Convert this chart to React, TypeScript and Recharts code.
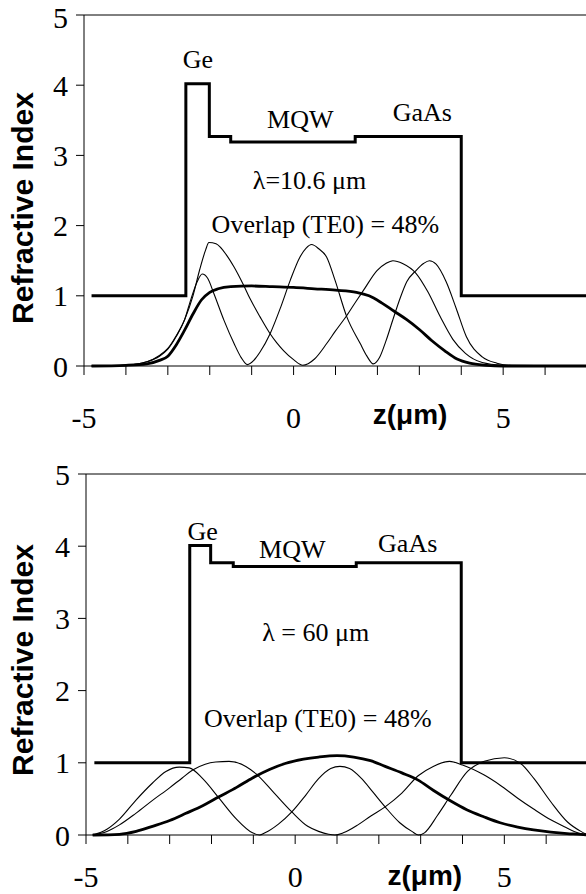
import { LineChart, Line, XAxis, YAxis, ReferenceLine, ReferenceDot } from 'recharts'

const SERIF = '"Liberation Serif", "Times New Roman", serif'
const SANS = '"Liberation Sans", Arial, sans-serif'

const xTicks = [-5, -4, -3, -2, -1, 0, 1, 2, 3, 4, 5, 6, 7]
const yTicks = [0, 1, 2, 3, 4, 5]

// ---- top panel: lambda = 10.6 um ----
const stepZ1 = [-4.82, -2.57, -2.57, -2.01, -2.01, -1.5, -1.5, 1.47, 1.47, 4.0, 4.0, 7]
const stepN1 = [1, 1, 4.02, 4.02, 3.27, 3.27, 3.19, 3.19, 3.27, 3.27, 1, 1]

const te0Z1 = [-4.82, -4.0, -3.5, -3.2, -3.0, -2.8, -2.6, -2.4, -2.2, -2.0, -1.8, -1.5, -1.0, -0.5, 0, 0.5, 1.0, 1.5, 1.8, 2.1, 2.4, 2.7, 3.0, 3.3, 3.6, 3.9, 4.2, 4.6, 5.0, 7]
const te0V1 = [0, 0.01, 0.03, 0.08, 0.14, 0.3, 0.51, 0.74, 0.94, 1.05, 1.1, 1.13, 1.14, 1.13, 1.12, 1.1, 1.08, 1.05, 1.0, 0.9, 0.78, 0.66, 0.52, 0.36, 0.22, 0.1, 0.04, 0.01, 0, 0]

const te1Z1 = [-4.82, -4.0, -3.5, -3.2, -3.0, -2.8, -2.6, -2.4, -2.25, -2.1, -2.02, -1.85, -1.6, -1.42, -1.2, -1.04, -0.8, -0.56, -0.4, -0.24, 0, 0.22, 0.5, 0.79, 1.0, 1.27, 1.5, 1.67, 1.99, 2.2, 2.37, 2.6, 2.92, 3.2, 3.5, 3.8, 4.1, 4.5, 5.0, 5.5, 7]
const te1V1 = [0, 0.01, 0.06, 0.15, 0.25, 0.43, 0.66, 1.0, 1.35, 1.65, 1.76, 1.74, 1.58, 1.41, 1.16, 0.96, 0.7, 0.46, 0.33, 0.22, 0.09, 0.01, 0.1, 0.32, 0.5, 0.72, 0.93, 1.08, 1.36, 1.46, 1.5, 1.46, 1.32, 1.06, 0.7, 0.38, 0.18, 0.05, 0.01, 0, 0]

const te2Z1 = [-4.82, -4.0, -3.5, -3.2, -3.0, -2.8, -2.6, -2.45, -2.3, -2.18, -2.05, -1.9, -1.66, -1.42, -1.25, -1.1, -0.95, -0.8, -0.56, -0.3, -0.08, 0.15, 0.3, 0.43, 0.6, 0.79, 0.99, 1.27, 1.59, 1.75, 1.9, 2.05, 2.2, 2.38, 2.55, 2.7, 2.92, 3.1, 3.24, 3.4, 3.64, 3.88, 4.12, 4.5, 4.85, 5.2, 7]
const te2V1 = [0, 0.01, 0.06, 0.14, 0.24, 0.42, 0.66, 0.95, 1.2, 1.31, 1.25, 1.03, 0.65, 0.32, 0.12, 0.02, 0.08, 0.2, 0.46, 0.85, 1.22, 1.55, 1.68, 1.73, 1.67, 1.55, 1.22, 0.7, 0.32, 0.14, 0.03, 0.12, 0.35, 0.68, 0.98, 1.2, 1.36, 1.46, 1.5, 1.45, 1.2, 0.82, 0.42, 0.13, 0.04, 0.01, 0]

// ---- bottom panel: lambda = 60 um ----
const stepZ2 = [-4.8, -2.52, -2.52, -2.02, -2.02, -1.48, -1.48, 1.46, 1.46, 3.97, 3.97, 7]
const stepN2 = [1, 1, 4.01, 4.01, 3.77, 3.77, 3.72, 3.72, 3.77, 3.77, 1, 1]

const te0Z2 = [-4.84, -4.2, -3.8, -3.41, -3.0, -2.61, -2.2, -1.82, -1.4, -1.02, -0.6, -0.24, 0.2, 0.56, 1.0, 1.4, 1.8, 2.15, 2.55, 2.94, 3.3, 3.72, 4.1, 4.52, 4.9, 5.32, 5.7, 6.11, 6.5, 6.83, 7]
const te0V2 = [0, 0.01, 0.05, 0.12, 0.2, 0.3, 0.41, 0.53, 0.66, 0.79, 0.91, 0.99, 1.05, 1.08, 1.1, 1.08, 1.03, 0.95, 0.86, 0.76, 0.62, 0.47, 0.35, 0.25, 0.17, 0.11, 0.07, 0.04, 0.02, 0.01, 0]

const te1Z2 = [-4.84, -4.5, -4.2, -3.81, -3.41, -3.01, -2.7, -2.45, -2.15, -1.9, -1.58, -1.18, -0.94, -0.5, -0.08, 0.3, 0.56, 0.8, 0.95, 1.15, 1.5, 1.8, 2.15, 2.55, 2.94, 3.3, 3.69, 4.0, 4.52, 4.9, 5.32, 5.7, 6.11, 6.45, 6.67, 6.9, 7]
const te1V2 = [0, 0.05, 0.14, 0.3, 0.48, 0.65, 0.79, 0.9, 0.98, 1.01, 1.02, 0.95, 0.85, 0.58, 0.32, 0.12, 0.05, 0.01, 0, 0.03, 0.14, 0.26, 0.39, 0.58, 0.82, 0.95, 1.02, 0.97, 0.83, 0.69, 0.51, 0.36, 0.21, 0.11, 0.05, 0.01, 0]

const te2Z2 = [-4.84, -4.5, -4.2, -3.81, -3.41, -3.09, -2.77, -2.53, -2.21, -1.82, -1.42, -1.02, -0.85, -0.72, -0.4, -0.08, 0.25, 0.56, 0.85, 1.07, 1.3, 1.59, 1.85, 2.15, 2.5, 2.79, 2.95, 3.09, 3.4, 3.72, 4.12, 4.52, 5.0, 5.39, 5.71, 6.11, 6.51, 6.83, 7]
const te2V2 = [0, 0.08, 0.22, 0.48, 0.72, 0.88, 0.94, 0.93, 0.78, 0.51, 0.23, 0.03, 0, 0.03, 0.15, 0.32, 0.55, 0.78, 0.92, 0.95, 0.92, 0.78, 0.6, 0.39, 0.17, 0.05, 0, 0.03, 0.27, 0.55, 0.88, 1.02, 1.07, 0.99, 0.78, 0.46, 0.18, 0.05, 0]

// annotation text + where it sits (data coords)
const notes1 = [
  { text: 'Ge', x: -2.28, y: 4.38 },
  { text: 'MQW', x: 0.16, y: 3.52 },
  { text: 'GaAs', x: 3.07, y: 3.62 },
  { text: 'λ=10.6 μm', x: 0.38, y: 2.65 },
  { text: 'Overlap (TE0) = 48%', x: 0.76, y: 2.02 },
]
const notes2 = [
  { text: 'Ge', x: -2.21, y: 4.21 },
  { text: 'MQW', x: -0.07, y: 3.96 },
  { text: 'GaAs', x: 2.69, y: 4.05 },
  { text: 'λ = 60 μm', x: 0.49, y: 2.81 },
  { text: 'Overlap (TE0) = 48%', x: 0.54, y: 1.63 },
]

const pts = (xs: number[], ys: number[]) => xs.map((x, i) => ({ x, v: ys[i] }))

function YTitle({ cx, cy }: { cx: number; cy: number }) {
  return (
    <text
      x={cx}
      y={cy}
      transform={`rotate(-90, ${cx}, ${cy})`}
      textAnchor="middle"
      fontFamily={SANS}
      fontWeight="bold"
      fontSize={30}
      fill="#000"
    >
      Refractive Index
    </text>
  )
}

interface PanelProps {
  step: { x: number; v: number }[]
  te0: { x: number; v: number }[]
  modes: { x: number; v: number }[][]
  notes: { text: string; x: number; y: number }[]
  zPos: { x: number; y: number }
  width: number
  height: number
  marginTop: number
  yAxisWidth: number
  xAxisHeight: number
  xTickMargin: number
  titleY: number
}

function Panel(p: PanelProps) {
  return (
    <LineChart width={p.width} height={p.height} margin={{ top: p.marginTop, right: 0, bottom: 0, left: 0 }}>
      <XAxis
        type="number"
        dataKey="x"
        domain={[-5, 7]}
        ticks={xTicks}
        allowDataOverflow
        stroke="#000"
        tickSize={9}
        tickMargin={p.xTickMargin}
        height={p.xAxisHeight}
        tickFormatter={(t: number) => (t % 5 === 0 && t < 7 ? String(t) : '')}
        tick={{ fill: '#000', fontSize: 30, fontFamily: SERIF }}
      />
      <YAxis
        type="number"
        domain={[0, 5]}
        ticks={yTicks}
        stroke="#000"
        tickSize={8}
        tickMargin={8}
        width={p.yAxisWidth}
        tick={{ fill: '#000', fontSize: 30, fontFamily: SERIF }}
        label={<YTitle cx={33} cy={p.titleY} />}
      />
      <ReferenceLine y={5} stroke="#000" strokeWidth={1} />
      {p.modes.map((m, i) => (
        <Line
          key={i}
          data={m}
          dataKey="v"
          type="monotone"
          stroke="#000"
          strokeWidth={1.1}
          dot={false}
          isAnimationActive={false}
        />
      ))}
      <Line data={p.te0} dataKey="v" type="monotone" stroke="#000" strokeWidth={2.8} dot={false} isAnimationActive={false} />
      <Line data={p.step} dataKey="v" type="linear" stroke="#000" strokeWidth={3} dot={false} isAnimationActive={false} />
      {p.notes.map((n) => (
        <ReferenceDot
          key={n.text}
          x={n.x}
          y={n.y}
          r={0}
          fill="none"
          stroke="none"
          label={{ value: n.text, position: 'center', fill: '#000', fontSize: 26, fontFamily: SERIF }}
        />
      ))}
      <ReferenceDot
        x={p.zPos.x}
        y={p.zPos.y}
        r={0}
        fill="none"
        stroke="none"
        ifOverflow="visible"
        label={{ value: 'z(μm)', position: 'center', fill: '#000', fontSize: 28, fontWeight: 'bold', fontFamily: SANS }}
      />
    </LineChart>
  )
}

export default function App() {
  return (
    <div style={{ position: 'fixed', left: 0, top: 0, width: 586, height: 894, overflow: 'hidden', background: '#fff' }}>
      <div style={{ position: 'absolute', left: 0, top: 0 }}>
        <Panel
          step={pts(stepZ1, stepN1)}
          te0={pts(te0Z1, te0V1)}
          modes={[pts(te1Z1, te1V1), pts(te2Z1, te2V1)]}
          notes={notes1}
          zPos={{ x: 2.78, y: -0.69 }}
          width={587}
          height={440}
          marginTop={15}
          yAxisWidth={84}
          xAxisHeight={74}
          xTickMargin={32}
          titleY={208}
        />
      </div>
      <div style={{ position: 'absolute', left: 0, top: 440 }}>
        <Panel
          step={pts(stepZ2, stepN2)}
          te0={pts(te0Z2, te0V2)}
          modes={[pts(te1Z2, te1V2), pts(te2Z2, te2V2)]}
          notes={notes2}
          zPos={{ x: 3.1, y: -0.56 }}
          width={588}
          height={454}
          marginTop={34}
          yAxisWidth={86}
          xAxisHeight={59}
          xTickMargin={22}
          titleY={220}
        />
      </div>
    </div>
  )
}
